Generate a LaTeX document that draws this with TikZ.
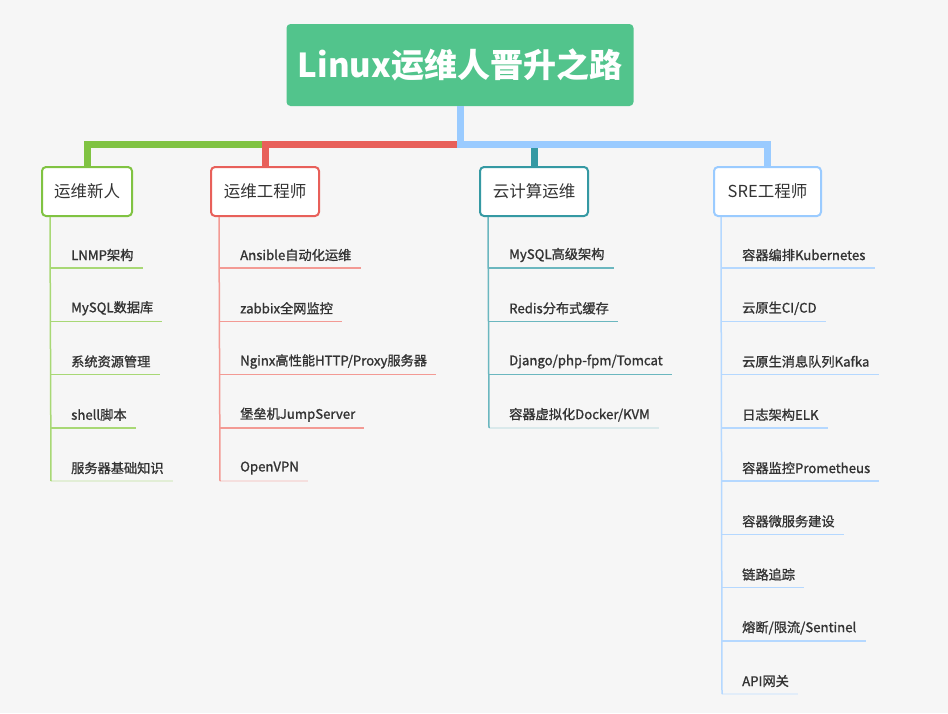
\documentclass[tikz,border=0pt]{standalone}
\usepackage{fontspec}
\setmainfont{Noto Sans CJK SC}
\newfontfamily\medfont{Noto Sans CJK SC}[FakeBold=1.2]
\usetikzlibrary{calc}
\definecolor{bg}{HTML}{F6F6F6}
\definecolor{titlegreen}{HTML}{52C48C}
\definecolor{textgray}{HTML}{333333}
\definecolor{cg}{HTML}{80C342}
\definecolor{cr}{HTML}{E8605A}
\definecolor{ct}{HTML}{3599A3}
\definecolor{cb}{HTML}{9ACBFF}
\definecolor{lg}{HTML}{A8D875}
\definecolor{lr}{HTML}{F39A94}
\definecolor{lt}{HTML}{6BB7BF}
\definecolor{lb}{HTML}{B5D8FF}
\colorlet{lgf}{lg!25!bg}
\colorlet{lrf}{lr!25!bg}
\colorlet{ltf}{lt!20!bg}
\colorlet{lbf}{lb!30!bg}
\begin{document}
\begin{tikzpicture}[x=1pt,y=-1pt,
  titlebox/.style={fill=titlegreen, rounded corners=4pt, minimum width=347pt, minimum height=82pt, text=white, font=\fontsize{33}{38}\selectfont\bfseries, inner sep=0pt},
  branch/.style={fill=white, draw=#1, line width=2pt, rounded corners=4pt, minimum height=49pt, font=\fontsize{16.5}{19}\selectfont, text=textgray, inner sep=0pt},
  item/.style={anchor=west, inner sep=0pt, font=\medfont\fontsize{13.2}{16}\selectfont, text=textgray},
  link/.style={line width=7pt, draw=#1},
  stem/.style={line width=1.5pt, draw=#1},
]
\fill[bg] (0,0) rectangle (948,713);
\useasboundingbox (0,0) rectangle (948,713);

\node[titlebox] (title) at (460,65) {Linux运维人晋升之路};

\node[branch=cg, minimum width=90pt] (b1) at (87,191.5) {运维新人};
\node[branch=cr, minimum width=108pt] (b2) at (265,191.5) {运维工程师};
\node[branch=ct, minimum width=108pt] (b3) at (534,191.5) {云计算运维};
\node[branch=cb, minimum width=107pt] (b4) at (767.5,191.5) {SRE工程师};

\coordinate (hub) at (460,144);
\draw[link=cg] (title.south) -- (hub) -| (b1.north);
\draw[link=cr] (title.south) -- (hub) -| (b2.north);
\draw[link=ct] (title.south) -- (hub) -| (b3.north);
\draw[link=cb] (title.south) -- (hub) -| (b4.north);

% branch 1
\foreach [count=\i] \c/\t in {lg/LNMP架构, lg/MySQL数据库, lg/系统资源管理, lg/shell脚本, lgf/服务器基础知识} {
  \coordinate (g\i) at (51,{268+53.25*(\i-1)});
  \node[item] (gt\i) at ($(g\i)+(20,-13)$) {\t};
  \draw[stem=\c] (g\i) -- ($(g\i -| gt\i.east)+(9,0)$);
}
\draw[stem=lg] ($(b1.south west)+(9,0)$) -- (g5);

% branch 2
\foreach [count=\i] \c/\t in {lr/Ansible自动化运维, lr/zabbix全网监控, lr/{Nginx高性能HTTP/Proxy服务器}, lr/堡垒机JumpServer, lrf/OpenVPN} {
  \coordinate (r\i) at (220,{268+53.25*(\i-1)});
  \node[item] (rt\i) at ($(r\i)+(20,-13)$) {\t};
  \draw[stem=\c] (r\i) -- ($(r\i -| rt\i.east)+(9,0)$);
}
\draw[stem=lr] ($(b2.south west)+(9,0)$) -- (r5);

% branch 3
\foreach [count=\i] \c/\t in {lt/MySQL高级架构, lt/Redis分布式缓存, lt/{Django/php-fpm/Tomcat}, ltf/{容器虚拟化Docker/KVM}} {
  \coordinate (t\i) at (489,{268+53.25*(\i-1)});
  \node[item] (tt\i) at ($(t\i)+(20,-13)$) {\t};
  \draw[stem=\c] (t\i) -- ($(t\i -| tt\i.east)+(9,0)$);
}
\draw[stem=lt] ($(b3.south west)+(9,0)$) -- (t4);

% branch 4
\foreach [count=\i] \c/\t in {lb/容器编排Kubernetes, lb/{云原生CI/CD}, lb/云原生消息队列Kafka, lb/日志架构ELK, lb/容器监控Prometheus, lb/容器微服务建设, lb/链路追踪, lb/{熔断/限流/Sentinel}, lbf/API网关} {
  \coordinate (s\i) at (722,{268+53.25*(\i-1)});
  \node[item] (st\i) at ($(s\i)+(20,-13)$) {\t};
  \draw[stem=\c] (s\i) -- ($(s\i -| st\i.east)+(9,0)$);
}
\draw[stem=lb] ($(b4.south west)+(8,0)$) -- (s9);
\end{tikzpicture}
\end{document}
